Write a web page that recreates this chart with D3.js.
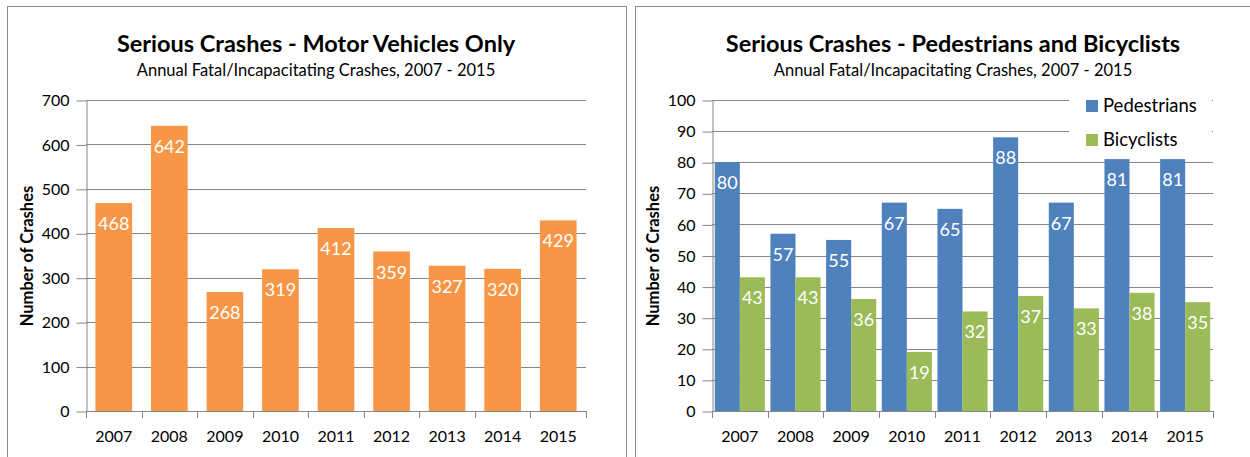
<!DOCTYPE html>
<html>
<head>
<meta charset="utf-8">
<script src="https://cdn.jsdelivr.net/npm/d3@7"></script>
<style>
  body { margin: 0; background: #fff; }
  text { font-family: Lato, "Open Sans", sans-serif; }
</style>
</head>
<body>
<svg id="chart" width="1250" height="457"></svg>
<script>
// data
var years = ["2007", "2008", "2009", "2010", "2011", "2012", "2013", "2014", "2015"];
var motorVehicles = [468, 642, 268, 319, 412, 359, 327, 320, 429];
var pedestrians = [80, 57, 55, 67, 65, 88, 67, 81, 81];
var bicyclists = [43, 43, 36, 19, 32, 37, 33, 38, 35];
var seriesNames = ["Pedestrians", "Bicyclists"];
var leftTicks = [0, 100, 200, 300, 400, 500, 600, 700];
var rightTicks = [0, 10, 20, 30, 40, 50, 60, 70, 80, 90, 100];

var colOrange = "#F79646", colBlue = "#4F81BD", colGreen = "#9BBB59";
var gridCol = "#868686";

var svg = d3.select("#chart");

// panel borders
svg.append("rect").attr("x", 7.5).attr("y", 6.5).attr("width", 619).attr("height", 470)
  .attr("fill", "none").attr("stroke", "#8c8c8c");
svg.append("rect").attr("x", 635.5).attr("y", 6.5).attr("width", 630).attr("height", 470)
  .attr("fill", "none").attr("stroke", "#8c8c8c");

function drawPanel(opts) {
  var g = svg.append("g");
  var x = d3.scaleBand().domain(years).range([opts.x0, opts.x1]);
  var y = d3.scaleLinear().domain([0, opts.max]).range([411, 100]);

  // titles
  g.append("text").attr("x", opts.cx).attr("y", 52).attr("text-anchor", "middle")
    .attr("font-weight", "bold").attr("font-size", 23.5).text(opts.title);
  g.append("text").attr("x", opts.cx).attr("y", 76).attr("text-anchor", "middle")
    .attr("font-size", 16.5).text("Annual Fatal/Incapacitating Crashes, 2007 - 2015");

  // gridlines
  g.append("g").selectAll("line").data(opts.ticks.filter(function(d) { return d > 0; }))
    .join("line")
    .attr("x1", opts.x0).attr("x2", opts.x1)
    .attr("y1", function(d) { return Math.round(y(d)) + 0.5; })
    .attr("y2", function(d) { return Math.round(y(d)) + 0.5; })
    .attr("stroke", gridCol).attr("stroke-width", 1);

  // y axis
  var ya = g.append("g").attr("transform", "translate(" + (opts.x0 + 0.5) + ",0.5)")
    .call(d3.axisLeft(y).tickValues(opts.ticks).tickSize(10).tickPadding(7).tickSizeOuter(0));
  ya.select(".domain").attr("stroke", gridCol);
  ya.selectAll(".tick line").attr("stroke", gridCol);
  ya.selectAll("text").attr("font-size", 16).attr("fill", "#000")
    .attr("font-family", "Lato, sans-serif");

  // y title
  g.append("text").attr("transform", "translate(" + opts.ytx + ",256) rotate(-90)")
    .attr("text-anchor", "middle").attr("font-weight", "bold").attr("font-size", 16.5)
    .text("Number of Crashes");

  return { g: g, x: x, y: y };
}

function drawXAxis(p, x0, x1) {
  var g = p.g;
  g.append("line").attr("x1", x0).attr("x2", x1 + 1).attr("y1", 411.5).attr("y2", 411.5)
    .attr("stroke", gridCol);
  var edges = years.map(function(d) { return p.x(d); }).concat([x1]);
  g.append("g").selectAll("line").data(edges).join("line")
    .attr("x1", function(d) { return Math.round(d) + 0.5; })
    .attr("x2", function(d) { return Math.round(d) + 0.5; })
    .attr("y1", 411).attr("y2", 418).attr("stroke", gridCol);
  g.append("g").selectAll("text").data(years).join("text")
    .attr("x", function(d) { return p.x(d) + p.x.bandwidth() / 2; })
    .attr("y", 442).attr("text-anchor", "middle").attr("font-size", 16).text(function(d) { return d; });
}

// left panel
var L = drawPanel({ x0: 86, x1: 586, max: 700, ticks: leftTicks, cx: 316, ytx: 33,
  title: "Serious Crashes - Motor Vehicles Only" });
var bw = L.x.bandwidth() * 0.66;
L.g.append("g").selectAll("rect").data(motorVehicles).join("rect")
  .attr("x", function(d, i) { return L.x(years[i]) + (L.x.bandwidth() - bw) / 2; })
  .attr("width", bw)
  .attr("y", function(d) { return L.y(d); })
  .attr("height", function(d) { return L.y(0) - L.y(d); })
  .attr("fill", colOrange);
L.g.append("g").selectAll("text").data(motorVehicles).join("text")
  .attr("x", function(d, i) { return L.x(years[i]) + L.x.bandwidth() / 2; })
  .attr("y", function(d) { return L.y(d) + 27; })
  .attr("text-anchor", "middle").attr("fill", "#fff").attr("font-size", 18)
  .text(function(d) { return d; });
drawXAxis(L, 86, 586);

// right panel
var R = drawPanel({ x0: 712, x1: 1213, max: 100, ticks: rightTicks, cx: 953, ytx: 659,
  title: "Serious Crashes - Pedestrians and Bicyclists" });

// legend box covers the gridlines behind it
R.g.append("rect").attr("x", 1069).attr("y", 88).attr("width", 143).attr("height", 66).attr("fill", "#fff");
var sub = d3.scaleBand().domain(seriesNames).range([0, R.x.bandwidth() * 0.9]);
var offset = R.x.bandwidth() * 0.05;
var groups = [pedestrians, bicyclists];
var colors = [colBlue, colGreen];
groups.forEach(function(vals, k) {
  R.g.append("g").selectAll("rect").data(vals).join("rect")
    .attr("x", function(d, i) { return R.x(years[i]) + offset + sub(seriesNames[k]); })
    .attr("width", sub.bandwidth())
    .attr("y", function(d) { return R.y(d); })
    .attr("height", function(d) { return R.y(0) - R.y(d); })
    .attr("fill", colors[k]);
  R.g.append("g").selectAll("text").data(vals).join("text")
    .attr("x", function(d, i) { return R.x(years[i]) + offset + sub(seriesNames[k]) + sub.bandwidth() / 2; })
    .attr("y", function(d) { return R.y(d) + 27; })
    .attr("text-anchor", "middle").attr("fill", "#fff").attr("font-size", 18)
    .text(function(d) { return d; });
});
drawXAxis(R, 712, 1213);

// legend
seriesNames.forEach(function(name, k) {
  R.g.append("rect").attr("x", 1086).attr("y", 100 + k * 34).attr("width", 12).attr("height", 12)
    .attr("fill", colors[k]);
  R.g.append("text").attr("x", 1103).attr("y", 112 + k * 34).attr("font-size", 18.5).text(name);
});
</script>
</body>
</html>
